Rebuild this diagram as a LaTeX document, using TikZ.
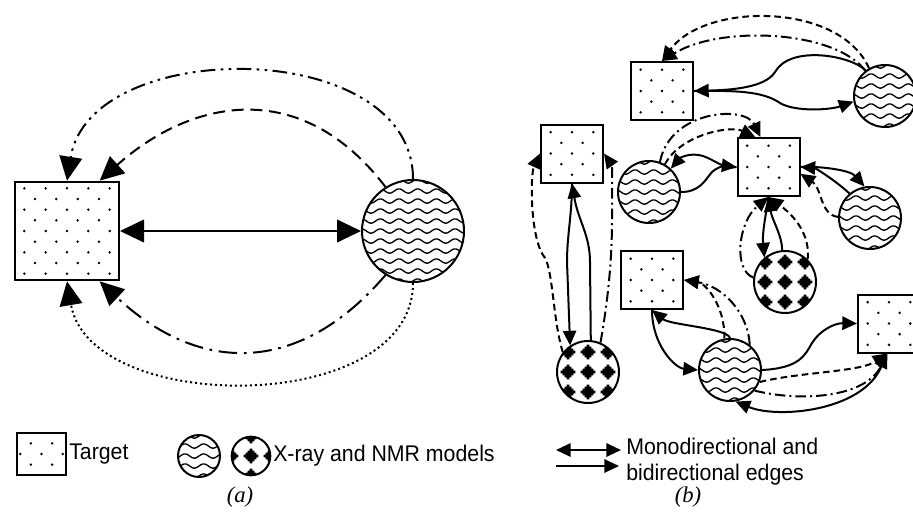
\documentclass[tikz,border=0pt]{standalone}
\usepackage{fontspec}
\setmainfont{Liberation Sans}
\newfontfamily\capfont{Liberation Serif}
\usetikzlibrary{arrows.meta,calc}

% staggered dot lattice for target squares
\newcommand\dotgrid{%
  \begin{scope}[shift={(path picture bounding box.center)},x=1pt,y=1pt]
    \foreach \i in {-6,...,6}{\foreach \j in {-6,...,6}{
      \fill[black] (\i*16+\j*8,\j*8) circle (1.05pt);}}
  \end{scope}}
% wavy rows for X-ray models
\newcommand\wavegrid{%
  \begin{scope}[shift={(path picture bounding box.center)},x=1pt,y=1pt]
    \foreach \j in {-6,...,6}{
      \draw[black,line width=1pt] plot[domain=-42:42,samples=85,smooth]
        (\x,{\j*7.5+1.6*sin(\x*360/14)});}
  \end{scope}}
% stepped diamonds for NMR models
\newcommand\blobgrid{%
  \begin{scope}[shift={(path picture bounding box.center)},x=1pt,y=1pt]
    \foreach \i in {-2,...,2}{\foreach \j in {-2,...,2}{
      \pgfmathsetmacro\bx{\i*15}\pgfmathsetmacro\by{\j*15}
      \fill[black]
        (\bx-1,\by-5.5) rectangle (\bx+1,\by+5.5)
        (\bx-2.5,\by-4) rectangle (\bx+2.5,\by+4)
        (\bx-4,\by-2.5) rectangle (\bx+4,\by+2.5)
        (\bx-5.5,\by-1) rectangle (\bx+5.5,\by+1);}}
  \end{scope}}
\newcommand\legendfont{\fontsize{17pt}{20pt}\selectfont}

\begin{document}
\begin{tikzpicture}[x=0.75pt,y=-0.75pt,
  target/.style={draw,line width=1.5pt,fill=white,inner sep=0pt,path picture={\dotgrid}},
  xray/.style={circle,draw,line width=1.5pt,fill=white,inner sep=0pt,path picture={\wavegrid}},
  nmr/.style={circle,draw,line width=1.5pt,fill=white,inner sep=0pt,path picture={\blobgrid}},
  tsize/.style={minimum width=46.5pt,minimum height=43.5pt},
  csize/.style={minimum size=46.5pt},
  edgeA/.style={line width=1.5pt,>={Triangle[length=18pt,width=17pt]}},
  edgeB/.style={line width=1.5pt,>={Triangle[length=11pt,width=10pt]}},
  dashA/.style={dash pattern=on 9pt off 5pt},
  dashdotA/.style={dash pattern=on 14pt off 5pt on 2pt off 5pt},
  dashdotdotA/.style={dash pattern=on 11pt off 4pt on 2pt off 4pt on 2pt off 4pt},
  dotA/.style={dash pattern=on 1.5pt off 2.25pt},
  dashB/.style={dash pattern=on 5pt off 3pt},
  dashdotB/.style={dash pattern=on 8pt off 3pt on 1.5pt off 3pt},
  legend/.style={anchor=west,inner sep=0pt,font=\legendfont},
  caption/.style={font=\capfont\fontsize{17pt}{20pt}\selectfont\itshape}]

\useasboundingbox (0,0) rectangle (913,515);

% ---------------- panel (a) ----------------
\node[target,minimum width=78pt,minimum height=74pt] (Ta) at (67,231) {};
\node[xray,minimum size=76.5pt] (Ca) at (413,231) {};

\draw[edgeA,<->] (Ta.east) -- (Ca.west);
\draw[edgeA,dashdotdotA,->] (Ca.north) .. controls (413,36) and (90,36) .. (Ta.north);
\draw[edgeA,dashA,->] (Ca.122) .. controls (300,75) and (190,100) .. (Ta.57);
\draw[edgeA,dashdotA,->] (Ca.238) .. controls (300,375) and (200,375) .. (Ta.-57);
\draw[edgeA,dotA,->] (Ca.south) .. controls (413,416) and (90,416) .. (Ta.south);

% ---------------- panel (b) ----------------
\node[target,tsize] (T1) at (662,91) {};
\node[xray,csize]   (C1) at (885,96) {};
\node[target,tsize] (T2) at (572,153.5) {};
\node[xray,csize]   (C2) at (649,192) {};
\node[target,tsize] (T3) at (768.5,167) {};
\node[xray,csize]   (C3) at (870,218) {};
\node[nmr,csize]    (N1) at (785,282) {};
\node[target,tsize] (T4) at (652,280) {};
\node[nmr,csize]    (N2) at (588,372) {};
\node[xray,csize]   (C4) at (730,370) {};
\node[target,tsize] (T5) at (889,323.5) {};

% T1 -- C1
\draw[edgeB,->] (C1.127) .. controls (850,55) and (790,45) .. (775,72)
  .. controls (765,88) and (730,90) .. (T1.east);
\draw[edgeB,->] (T1.east) .. controls (745,90) and (765,93) .. (780,103)
  .. controls (795,112) and (830,110) .. (C1.190);
\draw[edgeB,dashB,->] (C1.120) .. controls (840,2) and (705,2) .. (T1.north);
\draw[edgeB,dashdotB,->] (C1.128) .. controls (835,30) and (720,25) .. (T1.north);

% T2 -- N2
\draw[edgeB,->] (T2.south) .. controls (572,215) and (567,235) .. (567,262) -- (N2.124);
\draw[edgeB,->] (N2.85) -- (590,262) .. controls (590,235) and (578,220) .. (T2.south);
\draw[edgeB,dashB,->] (N2.142) .. controls (553,320) and (553,272) .. (545,258)
  .. controls (530,240) and (530,175) .. (T2.west);
\draw[edgeB,dashdotB,->] (N2.67) .. controls (608,300) and (612,260) .. (612,220)
  .. controls (612,185) and (612,165) .. (T2.east);

% C2 -- T3
\draw[edgeB,->] (T3.west) .. controls (725,170) and (715,160) .. (703,156)
  .. controls (690,152) and (680,158) .. (C2.47);
\draw[edgeB,->] (C2.east) .. controls (700,192) and (705,180) .. (712,172)
  .. controls (720,165) and (728,166) .. (T3.west);
\draw[edgeB,dashB,->] (C2.60) .. controls (680,135) and (730,125) .. (T3.114);
\draw[edgeB,dashdotB,->] (C2.70) .. controls (670,110) and (745,105) .. (T3.105);

% T3 -- C3
\draw[edgeB,->] (T3.east) .. controls (820,166) and (850,170) .. (C3.100);
\draw[edgeB,->] (C3.130) .. controls (835,180) and (815,168) .. (T3.east);
\draw[edgeB,dashB,->] (C3.178) .. controls (820,215) and (822,188) .. (T3.-12);

% T3 -- N1
\draw[edgeB,->] (T3.south) .. controls (766,215) and (762,232) .. (N1.130);
\draw[edgeB,->] (N1.95) .. controls (782,235) and (772,220) .. (T3.south);
\draw[edgeB,dashdotB,->] (N1.172) .. controls (733,270) and (738,222) .. (T3.south);
\draw[edgeB,dashB,->] (N1.45) .. controls (810,240) and (800,220) .. (T3.south);

% T4 -- C4
\draw[edgeB,->] (C4.north) .. controls (727,328) and (670,325) .. (T4.south);
\draw[edgeB,->] (T4.south) .. controls (652,345) and (675,368) .. (C4.west);
\draw[edgeB,dashB,->] (C4.100) .. controls (725,305) and (705,283) .. (T4.east);
\draw[edgeB,dashdotB,->] (C4.52) .. controls (748,312) and (722,286) .. (T4.east);

% C4 -- T5
\draw[edgeB,->] (C4.east) .. controls (800,368) and (805,355) .. (812,343)
  .. controls (820,330) and (835,323) .. (T5.west);
\draw[edgeB,->] (T5.-98) .. controls (878,410) and (780,420) .. (C4.-80);
\draw[edgeB,dashB,->] (C4.-22) .. controls (800,372) and (860,372) .. (T5.-93);
\draw[edgeB,dashdotB,->] (C4.-40) .. controls (800,402) and (865,398) .. (T5.-93);

% ---------------- legend ----------------
\node[target,minimum width=36.75pt,minimum height=31.5pt] (LT) at (41.5,454) {};
\node[legend] (LTtext) at (69,454) {\scalebox{0.94}[1]{Target}};
\node[xray,minimum size=31.5pt] (LX) at (199,456) {};
\node[nmr,minimum size=29pt] (LN) at (251,456) {};
\node[legend] (LNtext) at (273,456) {\scalebox{0.94}[1]{X-ray and NMR models}};
\coordinate (LA1) at (556,450);
\coordinate (LA2) at (621,450);
\coordinate (LB1) at (556,466);
\coordinate (LB2) at (619,466);
\draw[edgeB,<->] (LA1) -- (LA2);
\draw[edgeB,->] (LB1) -- (LB2);
\node[legend] (LEtext) at (626,462)
  {\scalebox{0.94}[1]{\begin{tabular}{@{}l@{}}Monodirectional and\\bidirectional edges\end{tabular}}};

\node[caption] (lblA) at (240,497) {(a)};
\node[caption] (lblB) at (688,497) {(b)};
\end{tikzpicture}
\end{document}
